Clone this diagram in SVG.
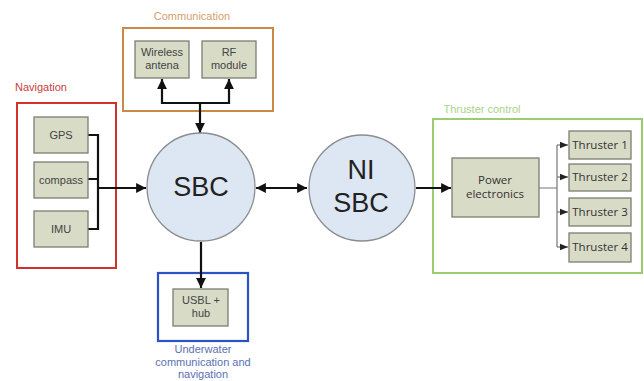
<svg xmlns="http://www.w3.org/2000/svg" width="644" height="381" viewBox="0 0 644 381">
<defs>
<style>
.box{fill:#d8dbc6;stroke:#7c7f72;stroke-width:1.3}
.circ{fill:#dde6f3;stroke:#8a8d90;stroke-width:1.3}
.t{font-family:"Liberation Sans",Arial,sans-serif;font-size:11px;fill:#444;text-anchor:middle}
.th{font-family:"Open Sans","Liberation Sans",sans-serif;font-size:11.5px;fill:#333;text-anchor:middle}
.big{font-family:"Liberation Sans",Arial,sans-serif;font-size:27px;fill:#222;text-anchor:middle}
.lbl{font-family:"Liberation Sans",Arial,sans-serif;font-size:11px;text-anchor:middle}
.c{fill:none;stroke:#111;stroke-width:2.2}
.cg{fill:none;stroke:#777;stroke-width:1.2}
</style>
<marker id="ah" viewBox="0 0 10 10" refX="10" refY="5" markerWidth="4.5" markerHeight="4.5" orient="auto-start-reverse" markerUnits="strokeWidth">
<path d="M0,0 L10,5 L0,10 z" fill="#111"/>
</marker>
<marker id="ahs" viewBox="0 0 10 10" refX="10" refY="5" markerWidth="7" markerHeight="7" orient="auto" markerUnits="strokeWidth">
<path d="M0,1 L10,5 L0,9 z" fill="#222"/>
</marker>
</defs>
<rect width="644" height="381" fill="#fff"/>

<g id="communication">
<text class="lbl" x="192" y="20" fill="#d4a06e">Communication</text>
<rect x="123" y="28" width="150" height="83" fill="none" stroke="#c98a44" stroke-width="2"/>
</g>
<g id="navigation">
<text class="lbl" x="41" y="91" fill="#c8403c">Navigation</text>
<rect x="17" y="103" width="99" height="165" fill="none" stroke="#d2302a" stroke-width="2"/>
</g>
<g id="underwater">
<rect x="158" y="273" width="90" height="68" fill="none" stroke="#2a52c4" stroke-width="2.2"/>
<text class="lbl" x="203" y="353" fill="#5a6fb4">Underwater</text>
<text class="lbl" x="203" y="365.5" fill="#5a6fb4">communication and</text>
<text class="lbl" x="203" y="378" fill="#5a6fb4">navigation</text>
</g>
<g id="thruster-control">
<text class="lbl" x="482" y="113" fill="#a8d488">Thruster control</text>
<rect x="433" y="119" width="209" height="154" fill="none" stroke="#9ccc70" stroke-width="2"/>
</g>

<g id="connectors">
<path class="c" d="M162,79 V103 H229 V79" marker-start="url(#ah)" marker-end="url(#ah)"/>
<path class="c" d="M200,103 V133" marker-end="url(#ah)"/>
<path class="c" d="M88,135 H98 V229 H88 M88,179 H98"/>
<path class="c" d="M98,188 H146" marker-end="url(#ah)"/>
<path class="c" d="M256,188 H307" marker-start="url(#ah)" marker-end="url(#ah)"/>
<path class="c" d="M201,242 V288" marker-end="url(#ah)"/>
<path class="c" d="M416,188 H451" marker-end="url(#ah)"/>
<path class="cg" d="M539,188 H557 M557,145 V247"/>
<path class="cg" d="M557,145 H568" marker-end="url(#ahs)"/>
<path class="cg" d="M557,177 H568" marker-end="url(#ahs)"/>
<path class="cg" d="M557,212 H568" marker-end="url(#ahs)"/>
<path class="cg" d="M557,247 H568" marker-end="url(#ahs)"/>
</g>

<g id="wireless-antena">
<rect class="box" x="135" y="41" width="54" height="37"/>
<text class="t" x="162" y="56">Wireless</text>
<text class="t" x="162" y="69">antena</text>
</g>
<g id="rf-module">
<rect class="box" x="202" y="41" width="54" height="37"/>
<text class="t" x="229" y="56">RF</text>
<text class="t" x="229" y="69">module</text>
</g>
<g id="gps">
<rect class="box" x="34" y="117" width="54" height="36"/>
<text class="t" x="61" y="139">GPS</text>
</g>
<g id="compass">
<rect class="box" x="34" y="162" width="54" height="36"/>
<text class="t" x="61" y="184">compass</text>
</g>
<g id="imu">
<rect class="box" x="34" y="211" width="54" height="36"/>
<text class="t" x="61" y="233">IMU</text>
</g>
<g id="sbc">
<circle class="circ" cx="201" cy="187" r="54"/>
<text class="big" x="201" y="196">SBC</text>
</g>
<g id="ni-sbc">
<circle class="circ" cx="362" cy="188" r="53"/>
<text class="big" x="361" y="179">NI</text>
<text class="big" x="361" y="212">SBC</text>
</g>
<g id="usbl-hub">
<rect class="box" x="173" y="289" width="55" height="37"/>
<text class="t" x="201" y="304">USBL +</text>
<text class="t" x="201" y="317">hub</text>
</g>
<g id="power-electronics">
<rect class="box" x="452" y="158" width="87" height="59"/>
<text class="th" x="495" y="184">Power</text>
<text class="th" x="495" y="198">electronics</text>
</g>
<g id="thruster-1">
<rect class="box" x="569" y="131" width="62" height="28"/>
<text class="th" x="600" y="149">Thruster 1</text>
</g>
<g id="thruster-2">
<rect class="box" x="569" y="164" width="62" height="27"/>
<text class="th" x="600" y="181">Thruster 2</text>
</g>
<g id="thruster-3">
<rect class="box" x="569" y="198" width="62" height="28"/>
<text class="th" x="600" y="216">Thruster 3</text>
</g>
<g id="thruster-4">
<rect class="box" x="569" y="233" width="62" height="29"/>
<text class="th" x="600" y="251">Thruster 4</text>
</g>
</svg>
